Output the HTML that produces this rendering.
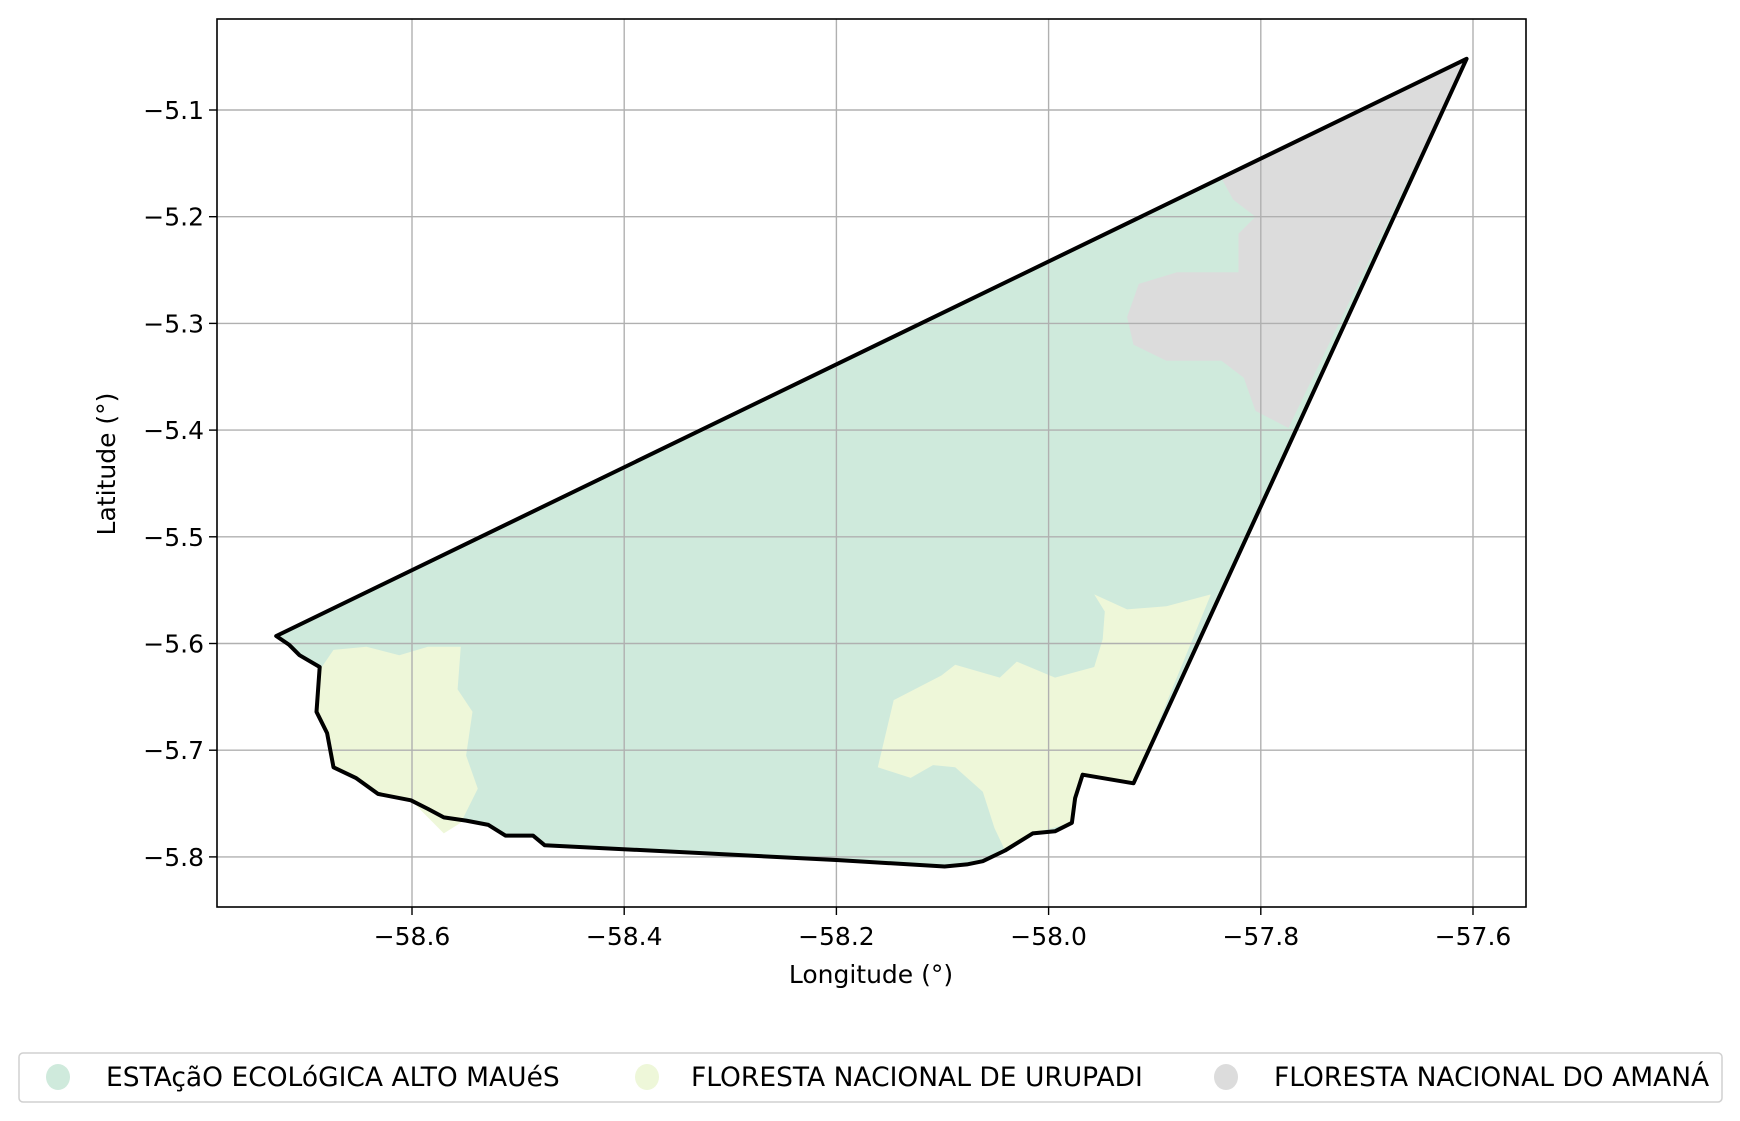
<!DOCTYPE html>
<html><head><meta charset="utf-8"><style>
body{margin:0;background:#fff;}
svg{display:block;font-family:"DejaVu Sans","Liberation Sans",sans-serif;}
</style></head><body>
<svg id="chart" width="1740" height="1121"></svg>
<script>
const xTicks=[-58.6,-58.4,-58.2,-58.0,-57.8,-57.6];
const yTicks=[-5.1,-5.2,-5.3,-5.4,-5.5,-5.6,-5.7,-5.8];
const outlineLon=[-58.728,-57.606,-57.920,-57.968,-57.975,-57.978,-57.994,-58.015,-58.041,-58.062,-58.077,-58.098,-58.198,-58.475,-58.486,-58.512,-58.528,-58.549,-58.570,-58.585,-58.601,-58.632,-58.653,-58.674,-58.680,-58.690,-58.687,-58.706,-58.716,-58.728];
const outlineLat=[-5.593,-5.052,-5.731,-5.723,-5.745,-5.768,-5.776,-5.778,-5.794,-5.804,-5.807,-5.809,-5.803,-5.789,-5.780,-5.780,-5.770,-5.766,-5.763,-5.755,-5.747,-5.741,-5.726,-5.716,-5.684,-5.664,-5.622,-5.611,-5.601,-5.593];
const greyLon=[-57.837,-57.606,-57.774,-57.805,-57.816,-57.837,-57.889,-57.920,-57.926,-57.915,-57.879,-57.821,-57.821,-57.805,-57.826];
const greyLat=[-5.164,-5.052,-5.398,-5.382,-5.351,-5.335,-5.335,-5.320,-5.294,-5.263,-5.252,-5.252,-5.216,-5.200,-5.184];
const yLeftLon=[-58.685,-58.674,-58.643,-58.612,-58.585,-58.554,-58.557,-58.543,-58.549,-58.538,-58.554,-58.570,-58.601,-58.632,-58.653,-58.674,-58.680,-58.690,-58.687];
const yLeftLat=[-5.622,-5.606,-5.603,-5.611,-5.603,-5.603,-5.643,-5.664,-5.705,-5.736,-5.768,-5.778,-5.747,-5.741,-5.726,-5.716,-5.684,-5.664,-5.622];
const yRightLon=[-57.957,-57.926,-57.889,-57.847,-57.920,-57.968,-57.978,-58.015,-58.041,-58.051,-58.062,-58.088,-58.109,-58.130,-58.161,-58.146,-58.101,-58.088,-58.046,-58.030,-57.994,-57.957,-57.949,-57.947];
const yRightLat=[-5.554,-5.568,-5.565,-5.554,-5.731,-5.723,-5.768,-5.778,-5.794,-5.773,-5.739,-5.716,-5.714,-5.726,-5.716,-5.653,-5.630,-5.620,-5.632,-5.617,-5.632,-5.622,-5.596,-5.570];
const legendLabels=["ESTAçãO ECOLóGICA ALTO MAUéS","FLORESTA NACIONAL DE URUPADI","FLORESTA NACIONAL DO AMANÁ"];
const legendColors=["#cfeadc","#eef7d9","#dcdcdc"];

const NS="http://www.w3.org/2000/svg";
const svg=document.getElementById('chart');
const L=217,R=1526,T=19,B=907;
function sx(v){return 412+(v+58.6)*1061;}
function sy(v){return 110+(-5.1-v)*1067;}
function mk(tag,attrs,parent){const e=document.createElementNS(NS,tag);for(const k in attrs)e.setAttribute(k,attrs[k]);(parent||svg).appendChild(e);return e;}
function pts(lo,la){return lo.map((v,i)=>sx(v).toFixed(1)+','+sy(la[i]).toFixed(1)).join(' ');}

let p=mk('polygon',{points:pts(outlineLon,outlineLat),fill:legendColors[0]});


p=mk('polygon',{points:pts(greyLon,greyLat),fill:legendColors[2]});


p=mk('polygon',{points:pts(yLeftLon,yLeftLat),fill:legendColors[1]});


p=mk('polygon',{points:pts(yRightLon,yRightLat),fill:legendColors[1]});


const grid2=mk('g',{});


xTicks.forEach(t=>{mk('line',{x1:sx(t),x2:sx(t),y1:T,y2:B,stroke:'#b0b0b0','stroke-width':1.4},grid2);});
yTicks.forEach(t=>{mk('line',{x1:L,x2:R,y1:sy(t),y2:sy(t),stroke:'#b0b0b0','stroke-width':1.4},grid2);});

p=mk('polygon',{points:pts(outlineLon,outlineLat),fill:'none',stroke:'#000','stroke-width':4,'stroke-linejoin':'round'});



const frame=mk('rect',{x:L,y:T,width:R-L,height:B-T,fill:'none',stroke:'#000','stroke-width':1.6});



xTicks.forEach(t=>{
  mk('line',{x1:sx(t),x2:sx(t),y1:B,y2:B+8,stroke:'#000','stroke-width':1.4});
  const tx=mk('text',{x:sx(t),y:B+38,'text-anchor':'middle','font-size':25});
  tx.textContent='\u2212'+Math.abs(t).toFixed(1);
  
  
});
yTicks.forEach(t=>{
  mk('line',{x1:L-8,x2:L,y1:sy(t),y2:sy(t),stroke:'#000','stroke-width':1.4});
  const tx=mk('text',{x:L-13,y:sy(t)+9,'text-anchor':'end','font-size':25});
  tx.textContent='\u2212'+Math.abs(t).toFixed(1);
  
  
});
let t=mk('text',{x:871,y:983,'text-anchor':'middle','font-size':25});
t.textContent='Longitude (°)';


t=mk('text',{x:115,y:464,'text-anchor':'middle','font-size':25,transform:'rotate(-90 115 464)'});
t.textContent='Latitude (°)';



const lg=mk('g',{});


mk('rect',{x:19,y:1053,width:1703,height:49,rx:4,fill:'#fff',stroke:'#d0d0d0','stroke-width':1.5},lg);
const mx=[58,647,1226],tx=[106,691,1274];
legendLabels.forEach((lab,i)=>{
  const g=mk('g',{},lg);
  
  
  mk('ellipse',{cx:mx[i],cy:1077,rx:12,ry:13,fill:legendColors[i]},g);
  const te=mk('text',{x:tx[i],y:1086,'font-size':26.5},g);
  te.textContent=lab;
});
</script>
</body></html>
